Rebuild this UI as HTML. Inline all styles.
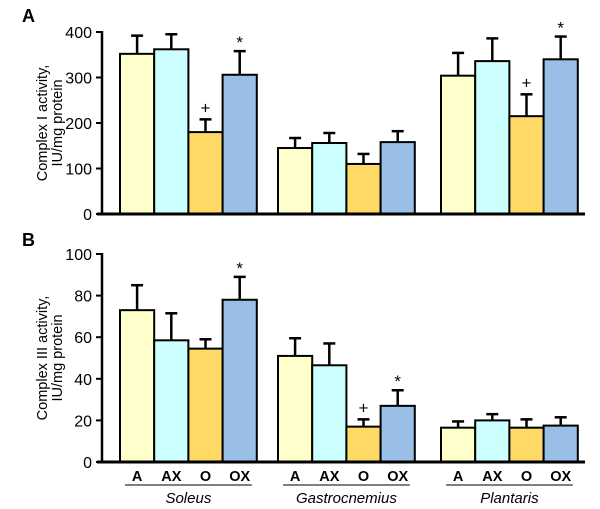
<!DOCTYPE html>
<html><head><meta charset="utf-8"><style>
body{margin:0;background:#fff}
svg{display:block;font-family:"Liberation Sans",Arial,sans-serif}
</style></head><body>
<svg id="c" width="600" height="509" viewBox="0 0 600 509"></svg>
<script>
const groups=["Soleus","Gastrocnemius","Plantaris"];
const conds=["A","AX","O","OX"];
const colors=["#ffffcc","#ccffff","#ffd966","#99bfe6"];
const aVals=[[352,362,180,306],[145,156,110,158],[304,336,215,340]];
const aErr=[[40,33,28,52],[22,22,22,24],[50,50,48,50]];
const aMarks=[["","","+","*"],["","","",""],["","","+","*"]];
const aTicks=[0,100,200,300,400];
const bVals=[[73,58.5,54.5,78],[51,46.5,17,27],[16.5,20,16.5,17.5]];
const bErr=[[12,13,4.5,11],[8.5,10.5,3.5,7.5],[3,3,4,4]];
const bMarks=[["","","","*"],["","","+","*"],["","","",""]];
const bTicks=[0,20,40,60,80,100];
const NS="http://www.w3.org/2000/svg";
const svg=document.getElementById('c');
function mk(t,a,p){const e=document.createElementNS(NS,t);for(const k in a)e.setAttribute(k,a[k]);(p||svg).appendChild(e);return e;}
const gStart=[120,278,441],bw=34.2;
function panel(name,letter,ly,y0,yTop,max,vals,errs,marks,ticks,title1,title2){
  const g=mk('g',{});
  
  
  const y=v=>y0-(v/max)*(y0-yTop);
  const L=mk('text',{x:22,y:ly,'font-size':18,'font-weight':'bold'},g);L.textContent=letter;
  
  ticks.forEach(t=>{
    mk('line',{x1:96,x2:102,y1:y(t),y2:y(t),stroke:'#000','stroke-width':2},g);
    const tx=mk('text',{x:92,y:y(t)+6,'font-size':16,'text-anchor':'end'},g);tx.textContent=t;
    
  });
  mk('line',{x1:102,x2:102,y1:yTop-1,y2:y0+1,stroke:'#000','stroke-width':2.5},g);
  const yt=mk('text',{transform:`translate(47,${(y0+yTop)/2}) rotate(-90)`,'font-size':14.5,'text-anchor':'middle'},g);
  
  const t1=mk('tspan',{x:0,dy:0},yt);t1.textContent=title1;
  const t2=mk('tspan',{x:0,dy:15},yt);t2.textContent=title2;
  vals.forEach((gv,gi)=>gv.forEach((v,ci)=>{
    const x=gStart[gi]+ci*bw, top=y(v), et=y(v+errs[gi][ci]), cx=x+bw/2;
    mk('line',{x1:cx,x2:cx,y1:top,y2:et,stroke:'#000','stroke-width':2.5},g);
    mk('line',{x1:cx-6,x2:cx+6,y1:et,y2:et,stroke:'#000','stroke-width':2.5},g);
    const r=mk('rect',{x:x,y:top,width:bw,height:y0-top,fill:colors[ci],stroke:'#000','stroke-width':2},g);
    
    
    if(marks[gi][ci]){const m=mk('text',{x:cx,y:et-(marks[gi][ci]=='*'?3:6),'font-size':17,'text-anchor':'middle'},g);m.textContent=marks[gi][ci];
      }
  }));
  mk('line',{x1:97,x2:585,y1:y0,y2:y0,stroke:'#000','stroke-width':3},g);
}
panel('panel-a-complex-i','A',22,214,32,400,aVals,aErr,aMarks,aTicks,'Complex I activity,','IU/mg protein');
panel('panel-b-complex-iii','B',246,462,254,100,bVals,bErr,bMarks,bTicks,'Complex III activity,','IU/mg protein');
groups.forEach((gname,gi)=>{
  conds.forEach((c,ci)=>{const t=mk('text',{x:gStart[gi]+ci*bw+bw/2,y:481,'font-size':14.5,'font-weight':'bold','text-anchor':'middle'});t.textContent=c;
    });
  mk('line',{x1:gStart[gi]+5,x2:gStart[gi]+4*bw-5,y1:485,y2:485,stroke:'#000','stroke-width':1});
  const t=mk('text',{x:gStart[gi]+2*bw,y:503,'font-size':15,'font-style':'italic','text-anchor':'middle'});t.textContent=gname;
  
});
</script>
</body></html>
